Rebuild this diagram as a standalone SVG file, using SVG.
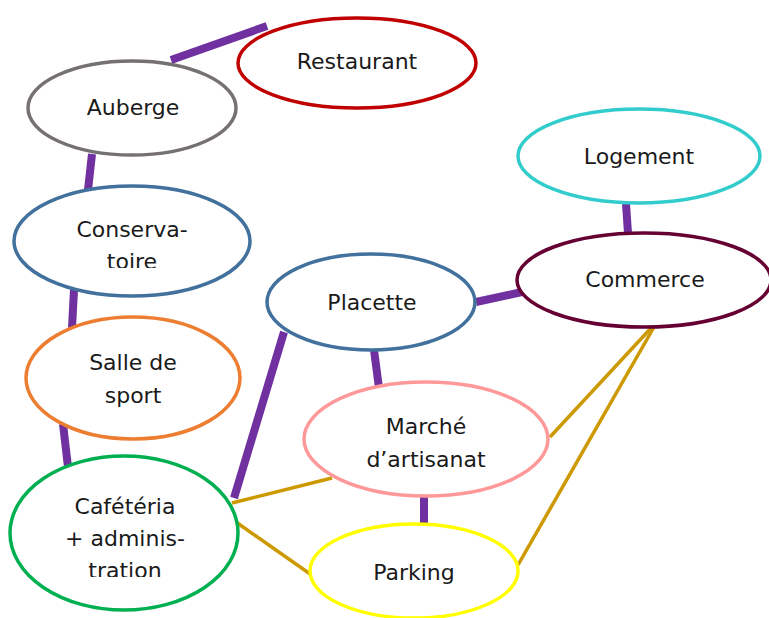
<svg xmlns="http://www.w3.org/2000/svg" width="769" height="618" viewBox="0 0 769 618">
<style>
.n{fill:#fff;stroke-width:3.5}
.t{font-family:"DejaVu Sans","Liberation Sans",sans-serif;font-size:22px;fill:#1a1a1a;text-anchor:middle}
.p{stroke:#7030A0;stroke-width:8;fill:none}
.g{stroke:#CC9900;stroke-width:3.5;fill:none}
</style>
<defs>
<clipPath id="cc"><rect x="0" y="200" width="260" height="68"/></clipPath>
<clipPath id="cf"><rect x="0" y="480" width="260" height="97"/></clipPath>
</defs>
<rect width="769" height="618" fill="#fff"/>
<g id="connectors">
<line class="p" x1="171" y1="60" x2="267" y2="26"/>
<line class="p" x1="92" y1="154" x2="88" y2="190"/>
<line class="p" x1="74" y1="290" x2="72" y2="328"/>
<line class="p" x1="63" y1="424" x2="68" y2="467"/>
<line class="p" x1="234" y1="498" x2="284" y2="332"/>
<line class="p" x1="374" y1="350" x2="379" y2="388"/>
<line class="p" x1="476" y1="302" x2="522" y2="292"/>
<line class="p" x1="626" y1="204" x2="628" y2="233"/>
<line class="p" x1="424" y1="496" x2="424" y2="525"/>
<line class="g" x1="232" y1="503" x2="332" y2="478"/>
<line class="g" x1="236" y1="522" x2="313" y2="576"/>
<line class="g" x1="550" y1="437" x2="652" y2="327"/>
<line class="g" x1="518" y1="565" x2="654" y2="327"/>
</g>
<g id="restaurant"><ellipse class="n" cx="357" cy="63" rx="119" ry="45" stroke="#C00000"/><text class="t" x="357" y="69">Restaurant</text></g>
<g id="auberge"><ellipse class="n" cx="132" cy="108" rx="104" ry="47" stroke="#767171"/><text class="t" x="133" y="115">Auberge</text></g>
<g id="conservatoire"><ellipse class="n" cx="132" cy="241" rx="118" ry="55" stroke="#41719C"/><g clip-path="url(#cc)"><text class="t" x="132" y="237">Conserva-</text><text class="t" x="132" y="269">toire</text></g></g>
<g id="salle"><ellipse class="n" cx="133" cy="378" rx="107" ry="61" stroke="#ED7D31"/><text class="t" x="133" y="370">Salle de</text><text class="t" x="133" y="403">sport</text></g>
<g id="cafeteria"><ellipse class="n" cx="124" cy="533" rx="114" ry="77" stroke="#00B050"/><g clip-path="url(#cf)"><text class="t" x="125" y="514">Cafétéria</text><text class="t" x="125" y="546">+ adminis-</text><text class="t" x="125" y="578">tration</text></g></g>
<g id="placette"><ellipse class="n" cx="371" cy="302" rx="104" ry="48" stroke="#41719C"/><text class="t" x="372" y="310">Placette</text></g>
<g id="marche"><ellipse class="n" cx="426" cy="439" rx="122" ry="57" stroke="#FF9999"/><text class="t" x="426" y="434">Marché</text><text class="t" x="426" y="467">d’artisanat</text></g>
<g id="parking"><ellipse class="n" cx="414" cy="571" rx="104" ry="47" stroke="#FFFF00"/><text class="t" x="414" y="580">Parking</text></g>
<g id="logement"><ellipse class="n" cx="639" cy="156" rx="121" ry="47" stroke="#33CCCC"/><text class="t" x="639" y="164">Logement</text></g>
<g id="commerce"><ellipse class="n" cx="644" cy="280" rx="127" ry="47" stroke="#660033"/><text class="t" x="645" y="287">Commerce</text></g>
</svg>
